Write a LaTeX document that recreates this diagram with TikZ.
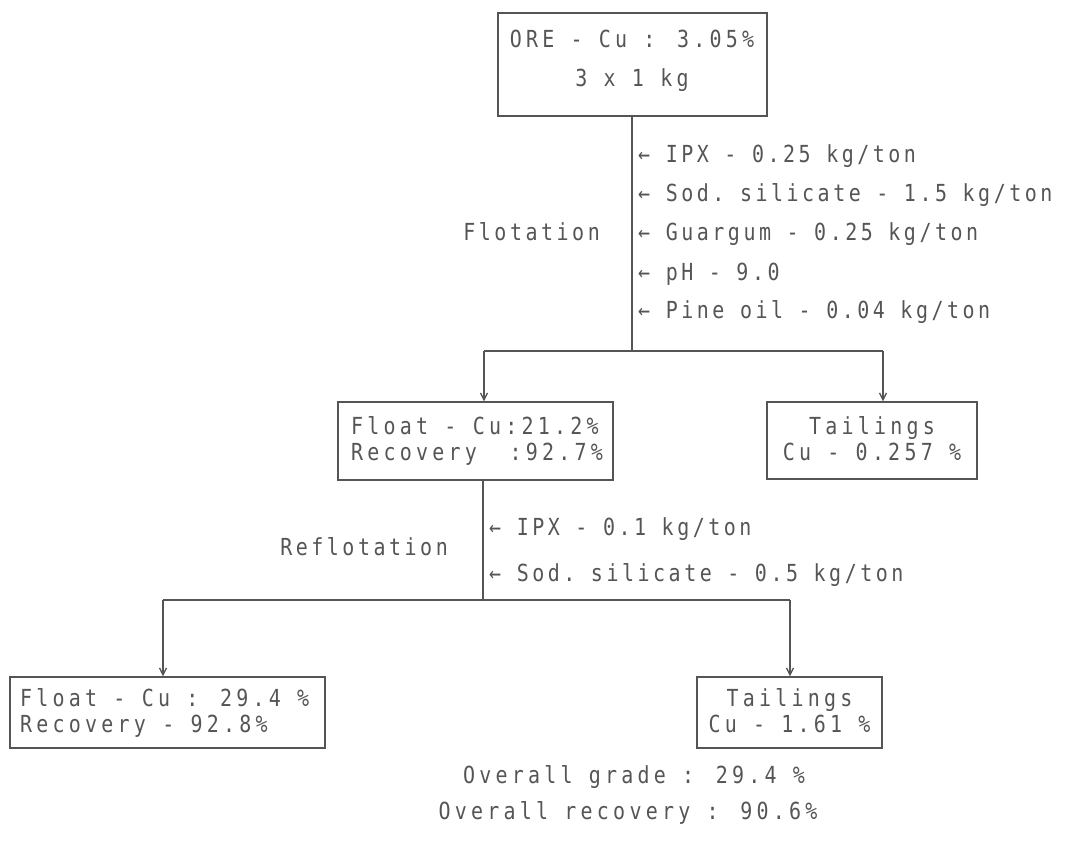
\documentclass[tikz,border=0pt]{standalone}
\usepackage{fontspec}
\setmonofont[FakeStretch=0.85,LetterSpace=15]{DejaVu Sans Mono}
\newfontfamily\wideface[FakeStretch=0.85,LetterSpace=18]{DejaVu Sans Mono}
\usetikzlibrary{arrows.meta}
\definecolor{ink}{RGB}{85,85,85}
\tikzset{
 box/.style={draw=ink, line width=1.3pt, inner sep=0pt},
 txt/.style={text=ink, font=\ttfamily\fontsize{23.5}{26}\selectfont, inner sep=0pt},
 btxt/.style={text=ink, font=\wideface\fontsize{23.5}{26}\selectfont, inner sep=0pt},
 wire/.style={draw=ink, line width=1.3pt},
 arr/.style={wire, -{Straight Barb[length=7pt,width=7pt]}},
}
\begin{document}
\begin{tikzpicture}[x=1pt,y=-1pt]
\useasboundingbox (0,0) rectangle (1071,852);
% boxes
\node[box, minimum width=269pt, minimum height=103pt] (ore) at (632.5,64.5) {};
\node[box, minimum width=275pt, minimum height=78pt] (fl1) at (475.5,441) {};
\node[box, minimum width=210pt, minimum height=77pt] (ta1) at (872,440.5) {};
\node[box, minimum width=315pt, minimum height=71pt] (fl2) at (167.5,712.5) {};
\node[box, minimum width=185pt, minimum height=71pt] (ta2) at (789.5,712.5) {};
% box texts
\node[btxt, anchor=base] (oret1) at (632,47) {ORE - Cu : 3.05\%};
\node[btxt, anchor=base] (oret2) at (632,86) {3 x 1 kg};
\node[btxt, anchor=base west] (fl1t1) at (351,434) {Float - Cu:21.2\%};
\node[btxt, anchor=base west] (fl1t2) at (351,460) {Recovery~~:92.7\%};
\node[btxt, anchor=base] (ta1t1) at (872,434) {Tailings};
\node[btxt, anchor=base] (ta1t2) at (872,460) {Cu - 0.257 \%};
\node[btxt, anchor=base west] (fl2t1) at (20,706) {Float - Cu : 29.4 \%};
\node[btxt, anchor=base west] (fl2t2) at (20,732) {Recovery - 92.8\%};
\node[btxt, anchor=base] (ta2t1) at (789.5,706) {Tailings};
\node[btxt, anchor=base] (ta2t2) at (789.5,732) {Cu - 1.61 \%};
% labels
\node[txt, anchor=base east] (flot) at (600,240) {Flotation};
\node[txt, anchor=base west] (r1) at (638,162) {← IPX - 0.25 kg/ton};
\node[txt, anchor=base west] (r2) at (638,201) {← Sod. silicate - 1.5 kg/ton};
\node[txt, anchor=base west] (r3) at (638,240) {← Guargum - 0.25 kg/ton};
\node[txt, anchor=base west] (r4) at (638,280) {← pH - 9.0};
\node[txt, anchor=base west] (r5) at (638,318) {← Pine oil - 0.04 kg/ton};
\node[txt, anchor=base east] (reflot) at (448,555) {Reflotation};
\node[txt, anchor=base west] (s1) at (489,535) {← IPX - 0.1 kg/ton};
\node[txt, anchor=base west] (s2) at (489,581) {← Sod. silicate - 0.5 kg/ton};
\node[btxt, anchor=base] (ov1) at (634,783) {Overall grade : 29.4 \%};
\node[btxt, anchor=base] (ov2) at (628,819) {Overall recovery : 90.6\%};
% connectors
\coordinate (j1) at (632,351);
\coordinate (j1l) at (484,351);
\coordinate (j1r) at (883,351);
\draw[wire] (ore.south -| j1) -- (j1);
\draw[wire] (j1l) -- (j1r);
\draw[arr] (j1l) -- (j1l |- fl1.north);
\draw[arr] (j1r) -- (j1r |- ta1.north);
\coordinate (j2) at (483,600);
\coordinate (j2l) at (163,600);
\coordinate (j2r) at (790,600);
\draw[wire] (j2 |- fl1.south) -- (j2);
\draw[wire] (j2l) -- (j2r);
\draw[arr] (j2l) -- (j2l |- fl2.north);
\draw[arr] (j2r) -- (j2r |- ta2.north);
\end{tikzpicture}
\end{document}
